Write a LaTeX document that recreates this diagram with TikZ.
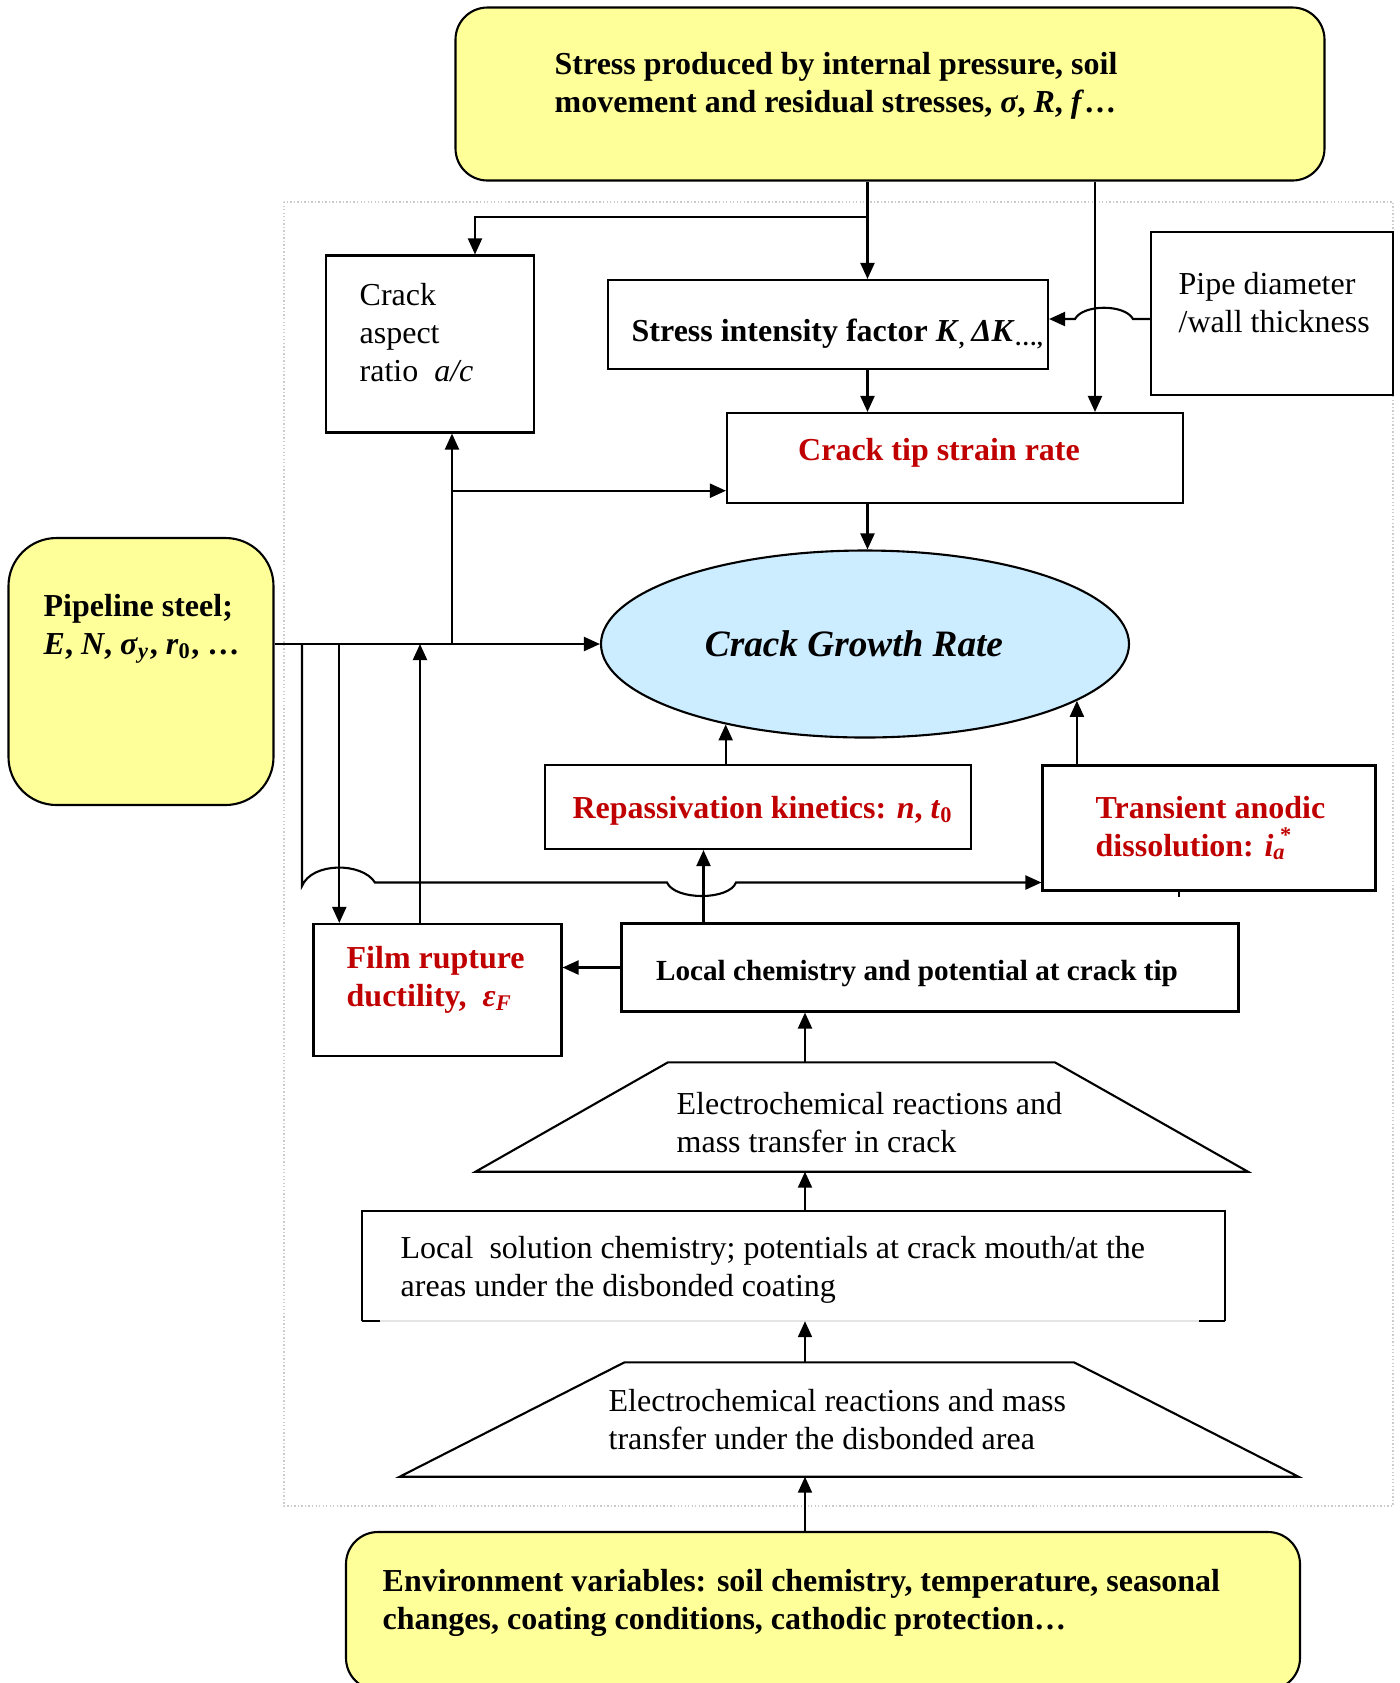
\documentclass[tikz,border=0pt]{standalone}
\usepackage{fontspec}
\setmainfont{Liberation Serif}
\usepackage{tikz}
\usetikzlibrary{arrows.meta, shapes.geometric, calc}
\definecolor{boxY}{RGB}{255,255,153}
\definecolor{boxB}{RGB}{204,236,255}
\definecolor{txtR}{RGB}{192,0,0}
\tikzset{lw/.style={line width=0.6pt},
  arr/.style={lw, -{Triangle[length=1.6mm, width=1.4mm]}},
  ybox/.style={draw, lw, fill=boxY, inner sep=0pt},
  wbox/.style={draw, lw, inner sep=0pt},
  txt/.style={inner sep=0pt, align=left, font=\fontsize{9.1}{10.8}\selectfont},
  btxt/.style={txt, font=\fontsize{9.1}{10.8}\selectfont\bfseries},
  rtxt/.style={btxt, text=txtR}}

\begin{document}
\begin{tikzpicture}[x=0.1mm, y=-0.1mm]
\useasboundingbox (0,0) rectangle (1400,1683);
% dotted frame round the crack model
\draw[gray!40, line width=0.4pt, dash pattern=on 0.4pt off 0.6pt] (284,202) rectangle (1393,1506);
% inputs
\node[ybox, rounded corners=3.2mm, minimum width=86.9mm, minimum height=17.3mm] (stress) at (890,94) {};
\node[btxt, anchor=west] (stress-t) at (554,86) {Stress produced by internal pressure, soil\\movement and residual stresses, \textit{σ}, \textit{R}, \textit{f}…};
\node[ybox, rounded corners=4.8mm, minimum width=26.5mm, minimum height=26.7mm] (steel) at (141,671.5) {};
\node[btxt, anchor=west] (steel-t) at (43,629) {Pipeline steel;\\\textit{E}, \textit{N}, \textit{σ}\textsubscript{\textit{y}}, \textit{r}\textsubscript{0}, …};
\node[ybox, rounded corners=3.2mm, minimum width=95.4mm, minimum height=15.8mm] (env) at (823,1611) {};
\node[btxt, anchor=west] (env-t) at (382,1603) {Environment variables: soil chemistry, temperature, seasonal\\changes, coating conditions, cathodic protection…};
% mechanical branch
\node[wbox, minimum width=20.8mm, minimum height=17.7mm] (aspect) at (430,344) {};
\node[txt, anchor=west] (aspect-t) at (359,333) {Crack\\aspect\\ratio\ \ \textit{a/c}};
\node[wbox, minimum width=44mm, minimum height=8.9mm] (sif) at (828,324.5) {};
\node[btxt, anchor=west] (sif-t) at (631,334) {Stress intensity factor \textit{K}\textsubscript{,}\,\textit{ΔK}\textsubscript{…,}};
\node[wbox, minimum width=24.2mm, minimum height=16.3mm] (pipe) at (1272,313.5) {};
\node[txt, anchor=west] (pipe-t) at (1178,303) {Pipe diameter\\/wall thickness};
\node[wbox, minimum width=45.6mm, minimum height=9mm] (ctsr) at (955,458) {};
\node[rtxt] (ctsr-t) at (939,453) {Crack tip strain rate};
\node[draw, lw, fill=boxB, ellipse, inner sep=0pt, minimum width=52.8mm, minimum height=18.7mm] (cgr) at (865,644) {};
\node[font=\fontsize{10.6}{12}\selectfont\bfseries\itshape, inner sep=0pt] (cgr-t) at (854,644) {Crack Growth Rate};
% electrochemical branch
\node[wbox, minimum width=42.6mm, minimum height=8.4mm] (repass) at (758,807) {};
\node[rtxt] (repass-t) at (763,811) {Repassivation kinetics: \textit{n}, \textit{t}\textsubscript{0}};
\node[wbox, minimum width=33.3mm, minimum height=12.5mm] (trans) at (1209,828) {};
\node[rtxt, anchor=west] (trans-t) at (1095,828) {Transient anodic\\dissolution: \textit{i}\textsubscript{\textit{a}}\kern-0.2em\textsuperscript{*}};
\node[wbox, minimum width=24.8mm, minimum height=13.2mm] (film) at (437.5,990) {};
\node[rtxt, anchor=west] (film-t) at (346,980) {Film rupture\\ductility,\ \ \textit{ε}\textsubscript{\textit{F}}};
\node[wbox, minimum width=61.7mm, minimum height=8.8mm] (lchem) at (930,967.5) {};
\node[btxt, font=\fontsize{8.3}{10}\selectfont\bfseries] (lchem-t) at (917,974) {Local chemistry and potential at crack tip};
% trapezia
\coordinate (t1n) at (861.5,1062.3);
\coordinate (t1s) at (861.5,1171.7);
\draw[lw] (668,1062.3) -- (1054.8,1062.3) -- (1248,1171.7) -- (475.5,1171.7) -- cycle;
\node[txt, anchor=west] (t1-t) at (676,1123) {Electrochemical reactions and\\mass transfer in crack};
\node[inner sep=0pt, minimum width=86.2mm, minimum height=10.9mm] (lsol) at (793.5,1266) {};
\draw[lw] (lsol.south west) -- (lsol.north west) -- (lsol.north east) -- (lsol.south east);
\draw[gray!20, lw] (lsol.south west) -- (lsol.south east);
\draw[lw] (lsol.south west) -- ++(18,0);
\draw[lw] (lsol.south east) -- ++(-26,0);
\node[txt, anchor=west] (lsol-t) at (400,1270) {Local\ \ solution chemistry; potentials at crack mouth/at the\\areas under the disbonded coating};
\coordinate (t2n) at (849,1362.3);
\coordinate (t2s) at (849,1476.7);
\draw[lw] (624.5,1362.3) -- (1074,1362.3) -- (1298.5,1476.7) -- (399.7,1476.7) -- cycle;
\node[txt, anchor=west] (t2-t) at (608,1419.5) {Electrochemical reactions and mass\\transfer under the disbonded area};
% guide points
\coordinate (br) at (867.5,217);
\coordinate (xa) at (475,0);
\coordinate (xv) at (1095,0);
\coordinate (hp) at (1095,319);
\coordinate (xs) at (452,644);
\coordinate (hh) at (452,490.7);
\coordinate (la) at (302,644);
\coordinate (lb) at (339.3,644);
\coordinate (lc) at (420,644);
\coordinate (ya) at (0,882.5);
\coordinate (xr) at (703.5,0);
\coordinate (xt) at (1179,0);
\coordinate (xm) at (805,0);
% stress paths
\draw[arr] (stress.south -| br) -- (sif.north -| br);
\draw[arr] (br) -| (aspect.north -| xa);
\draw[arr] (stress.south -| xv) -- (ctsr.north -| xv);
\draw[arr] (sif.south -| br) -- (ctsr.north -| br);
\draw[arr] (ctsr.south -| br) -- (cgr.north -| br);
\draw[arr] (pipe.west |- hp) -- ($(hp)+(38,0)$) .. controls ($(hp)+(30,-15)$) and ($(hp)+(-12,-15)$) .. ($(hp)+(-20,0)$) -- (sif.east |- hp);
% steel paths
\draw[arr] (steel.east |- cgr.west) -- (cgr.west);
\draw[arr] (xs) -- (aspect.south -| xs);
\draw[arr] (hh) -- (ctsr.west |- hh);
\draw[arr] (lb) -- (film.north -| lb);
\draw[arr] (film.north -| lc) -- (lc);
\draw[arr] (la) -- (302,886) .. controls (312,862) and (362,862) .. (375,882.5) -- (667,882.5)
  .. controls (675,900.5) and (729,900.5) .. (736,882.5) -- (trans.west |- ya);
\draw[lw] (trans.south -| xt) -- ++(0,5);
% chemistry paths
\draw[arr] (repass.north -| cgr.210) -- (cgr.210);
\draw[arr] (trans.north -| cgr.345.1) -- (cgr.345.1);
\draw[arr] (lchem.north -| xr) -- (repass.south -| xr);
\draw[arr] (lchem.west) -- (film.east |- lchem.west);
\draw[arr] (t1n -| xm) -- (lchem.south -| xm);
\draw[arr] (lsol.north -| xm) -- (t1s -| xm);
\draw[arr] (t2n -| xm) -- (lsol.south -| xm);
\draw[arr] (env.north -| xm) -- (t2s -| xm);
\end{tikzpicture}
\end{document}
